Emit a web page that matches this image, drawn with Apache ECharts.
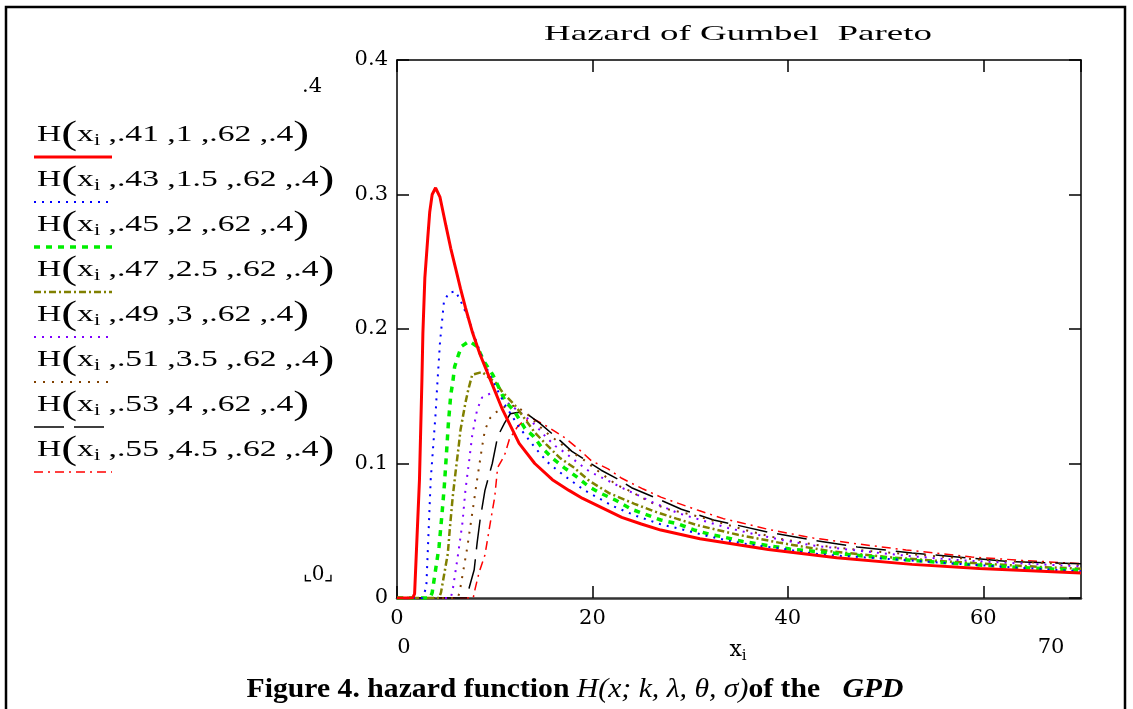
<!DOCTYPE html>
<html>
<head>
<meta charset="utf-8">
<title>Hazard of Gumbel Pareto</title>
<script src="https://cdn.jsdelivr.net/npm/echarts@6/dist/echarts.min.js"></script>
<style>
  html, body { margin: 0; padding: 0; background: #fff; }
  #chart { width: 1133px; height: 709px; }
</style>
</head>
<body>
<div id="chart"></div>
<script>
// x ticks / y ticks
var xTicks = [0, 20, 40, 60, 70];
var yTicks = [0, 0.1, 0.2, 0.3, 0.4];

// legend labels (k, lambda)
var kValues = ['.41', '.43', '.45', '.47', '.49', '.51', '.53', '.55'];
var lambdaValues = ['1', '1.5', '2', '2.5', '3', '3.5', '4', '4.5'];

// curves, [x, H]
var h1 = [[0,0],[1.6,0],[1.8,0.003],[2.3,0.088],[2.55,0.162],[2.65,0.197],[2.85,0.238],[3.15,0.268],[3.35,0.287],[3.6,0.300],[3.95,0.305],[4.4,0.298],[5.0,0.277],[5.5,0.260],[6.0,0.245],[6.5,0.230],[7.0,0.216],[7.7,0.198],[8.5,0.181],[9.4,0.165],[10.8,0.140],[12.5,0.115],[14.1,0.100],[15.9,0.088],[17.6,0.080],[19.0,0.074],[21.0,0.067],[23.0,0.060],[25.0,0.055],[27.0,0.0505],[31.0,0.044],[38.0,0.036],[45.0,0.030],[52.7,0.025],[59.6,0.022],[70,0.0185]];
var h2 = [[0,0],[2.6,0],[3.0,0.008],[3.45,0.088],[3.95,0.137],[4.1,0.156],[4.4,0.190],[4.6,0.205],[4.8,0.220],[5.3,0.227],[6.0,0.228],[6.7,0.218],[7.4,0.206],[8.0,0.193],[8.9,0.175],[9.9,0.160],[11.1,0.143],[12.5,0.127],[14.1,0.112],[15.4,0.101],[17.1,0.091],[19.2,0.080],[22.2,0.068],[24.5,0.061],[26.9,0.055],[29.4,0.0506],[31.8,0.046],[34.3,0.042],[36.7,0.039],[39.2,0.037],[41.6,0.034],[44.0,0.032],[49.4,0.0295],[56.2,0.026],[63.6,0.0225],[70,0.0198]];
var h3 = [[0,0],[3.4,0],[3.6,0.004],[4.3,0.038],[4.6,0.062],[4.85,0.084],[5.05,0.106],[5.25,0.129],[5.5,0.151],[5.7,0.160],[5.9,0.172],[6.3,0.181],[6.6,0.187],[7.4,0.191],[8.2,0.187],[8.9,0.176],[9.8,0.166],[11.1,0.146],[12.0,0.139],[13.1,0.126],[14.0,0.120],[14.8,0.112],[15.9,0.104],[17.1,0.097],[18.4,0.090],[19.6,0.083],[20.8,0.078],[22.3,0.073],[24.0,0.066],[25.5,0.062],[27.0,0.058],[28.8,0.055],[30.4,0.0506],[31.9,0.0476],[33.6,0.045],[35.4,0.042],[40.2,0.0364],[46.6,0.032],[52.7,0.028],[57.8,0.0253],[62.9,0.023],[70,0.0205]];
var h4 = [[0,0],[4.3,0],[4.5,0.004],[5.2,0.033],[5.4,0.051],[5.7,0.075],[6.0,0.094],[6.3,0.112],[6.5,0.125],[7.0,0.145],[7.3,0.155],[7.7,0.166],[8.7,0.168],[10.1,0.160],[10.8,0.153],[12.1,0.143],[13.1,0.133],[14.1,0.123],[15.3,0.114],[16.7,0.104],[18.1,0.097],[19.7,0.087],[21.7,0.078],[24.3,0.070],[26.5,0.064],[28.6,0.059],[30.8,0.054],[34.9,0.047],[39.2,0.041],[44.6,0.0345],[50.1,0.0305],[55.5,0.0275],[61.3,0.025],[66.0,0.023],[70,0.0218]];
var h5 = [[0,0],[5.5,0],[5.7,0.006],[6.2,0.030],[6.7,0.056],[7.0,0.080],[7.4,0.103],[7.7,0.121],[8.2,0.140],[8.7,0.149],[9.8,0.153],[10.5,0.151],[11.5,0.144],[12.8,0.137],[14.1,0.129],[15.2,0.120],[16.2,0.113],[17.2,0.108],[18.6,0.100],[19.7,0.094],[21.4,0.088],[23.0,0.082],[24.8,0.076],[26.2,0.071],[28.8,0.063],[31.1,0.058],[33.9,0.052],[36.5,0.0476],[39.5,0.043],[42.6,0.039],[47.4,0.035],[52.7,0.031],[57.8,0.028],[62.9,0.026],[70,0.0235]];
var h6 = [[0,0],[6.2,0],[6.4,0.004],[7.2,0.038],[7.7,0.063],[8.2,0.088],[8.7,0.112],[9.0,0.125],[9.55,0.134],[10.1,0.138],[11.0,0.142],[12.1,0.143],[13.3,0.137],[15.1,0.124],[16.7,0.115],[17.7,0.109],[18.9,0.104],[20.1,0.097],[21.2,0.091],[22.5,0.084],[23.7,0.080],[25.0,0.075],[26.0,0.071],[27.7,0.066],[30.1,0.062],[33.1,0.056],[35.9,0.050],[39.2,0.044],[43.3,0.039],[48.1,0.035],[53.5,0.032],[59.6,0.0285],[66.4,0.026],[70,0.0245]];
var h7 = [[0,0],[7.2,0],[7.4,0.008],[7.9,0.021],[8.2,0.041],[8.5,0.058],[9.0,0.080],[9.75,0.100],[10.3,0.120],[11.0,0.130],[11.6,0.137],[12.3,0.138],[13.1,0.138],[14.6,0.130],[16.7,0.117],[17.9,0.109],[19.4,0.102],[20.9,0.095],[22.7,0.088],[24.0,0.082],[26.3,0.075],[29.1,0.066],[32.4,0.058],[34.9,0.054],[37.9,0.049],[42.6,0.043],[47.1,0.038],[52.7,0.0335],[58.2,0.030],[62.9,0.027],[70,0.0255]];
var h8 = [[0,0],[7.8,0],[8.0,0.007],[8.4,0.019],[9.0,0.032],[9.55,0.056],[10.0,0.075],[10.3,0.097],[11.0,0.106],[11.5,0.118],[12.3,0.127],[13.0,0.132],[14.0,0.133],[15.5,0.127],[17.2,0.119],[18.7,0.110],[19.9,0.102],[21.6,0.096],[23.0,0.089],[25.2,0.081],[27.0,0.075],[30.9,0.065],[33.4,0.059],[35.2,0.056],[38.0,0.051],[42.6,0.0446],[47.4,0.040],[52.1,0.0357],[58.8,0.0305],[63.9,0.028],[70,0.0255]];

var curves = [h1, h2, h3, h4, h5, h6, h7, h8];

// mathcad-ish trace styles
var traceStyles = [
  { color: '#ff0000', width: 3,   dash: 'solid' },
  { color: '#0000ff', width: 2,   dash: [2, 6] },
  { color: '#00ee00', width: 3.5, dash: [6, 6] },
  { color: '#808000', width: 2.5, dash: [7, 3, 2, 3] },
  { color: '#8000ff', width: 2,   dash: [2, 6] },
  { color: '#804000', width: 2,   dash: [2, 7] },
  { color: '#000000', width: 1.5, dash: [30, 10] },
  { color: '#ff0000', width: 1.5, dash: [9, 5, 2, 5] }
];

var serif = 'Liberation Serif';
var numFont = 'DejaVu Serif';
var chart = echarts.init(document.getElementById('chart'));

var series = curves.map(function (c, i) {
  var st = traceStyles[i];
  return {
    name: 'H' + i,
    type: 'line',
    data: c,
    showSymbol: false,
    z: 10 - i,
    lineStyle: { color: st.color, width: st.width, type: st.dash },
    animation: false
  };
});

var graphics = [];
// outer frame
graphics.push({
  type: 'rect', shape: { x: 6, y: 7, width: 1119, height: 730 },
  style: { fill: 'none', stroke: '#000', lineWidth: 2.5 }, silent: true
});
// title
graphics.push({
  type: 'text', x: 738, y: 34, scaleX: 1.68,
  style: { text: 'Hazard of Gumbel  Pareto', font: '22px "Liberation Serif"', fill: '#000', align: 'center', verticalAlign: 'middle' }
});
// mathcad limit labels
graphics.push({
  type: 'text', x: 322, y: 87,
  style: { text: '.4', font: '21px "DejaVu Serif"', fill: '#000', align: 'right', verticalAlign: 'middle' }
});
graphics.push({
  type: 'text', x: 318, y: 575,
  style: { text: '⌞0⌟', font: '20px "DejaVu Serif"', fill: '#000', align: 'center', verticalAlign: 'middle' }
});
graphics.push({
  type: 'text', x: 404, y: 648,
  style: { text: '0', font: '21px "DejaVu Serif"', fill: '#000', align: 'center', verticalAlign: 'middle' }
});
graphics.push({
  type: 'text', x: 1051, y: 648,
  style: { text: '70', font: '21px "DejaVu Serif"', fill: '#000', align: 'center', verticalAlign: 'middle' }
});
graphics.push({
  type: 'text', x: 738, y: 650,
  style: {
    text: '{x|x}{s|i}', align: 'center', verticalAlign: 'middle',
    rich: {
      x: { font: '22px "DejaVu Serif"', fill: '#000' },
      s: { font: '15px "DejaVu Serif"', fill: '#000', padding: [12, 0, 0, 0] }
    }
  }
});

// legend: label text over a trace sample
var legendRich = {
  h: { font: '24px "Liberation Serif"', fill: '#000' },
  p: { font: '34px "Liberation Serif"', fill: '#000' },
  x: { font: '24px "Liberation Serif"', fill: '#000' },
  s: { font: '16px "Liberation Serif"', fill: '#000', padding: [12, 0, 0, 0] },
  t: { font: '24px "Liberation Serif"', fill: '#000' }
};
kValues.forEach(function (k, i) {
  var y0 = 135 + i * 45;
  var st = traceStyles[i];
  graphics.push({
    type: 'text', x: 37, y: y0, scaleX: 1.4,
    style: {
      text: '{h|H}{p|(}{x|x}{s|i}{t| ,' + k + ' ,' + lambdaValues[i] + ' ,.62 ,.4}{p|)}',
      rich: legendRich, verticalAlign: 'middle', align: 'left'
    }
  });
  graphics.push({
    type: 'line', shape: { x1: 34, y1: y0 + 22, x2: 112, y2: y0 + 22 },
    style: { stroke: st.color, lineWidth: st.width, lineDash: st.dash === 'solid' ? null : st.dash }
  });
});

// caption
graphics.push({
  type: 'text', x: 575, y: 690, scaleX: 1.1,
  style: {
    text: '{b|Figure 4. hazard function }{m|H(x; k, λ, θ, σ)}{b|of the   }{bi|GPD}',
    align: 'center', verticalAlign: 'middle',
    rich: {
      b: { font: 'bold 27px "Liberation Serif"', fill: '#000' },
      m: { font: 'italic 27px "Liberation Serif"', fill: '#000' },
      bi: { font: 'italic bold 27px "Liberation Serif"', fill: '#000' }
    }
  }
});

var axisCommon = {
  type: 'value',
  axisLine: { show: true, onZero: false, lineStyle: { color: '#000', width: 1.5 } },
  axisTick: { show: true, inside: true, length: 12, lineStyle: { color: '#000', width: 1.5 } },
  splitLine: { show: false }
};

var option = {
  backgroundColor: '#fff',
  animation: false,
  grid: { left: 397, right: 52, top: 60, bottom: 111, containLabel: false },
  xAxis: [
    Object.assign({}, axisCommon, {
      min: xTicks[0], max: xTicks[xTicks.length - 1], interval: xTicks[1] - xTicks[0], position: 'bottom',
      axisLine: { show: true, onZero: false, lineStyle: { color: '#333', width: 2.5 } },
      axisLabel: { showMaxLabel: false, color: '#000', fontFamily: numFont, fontSize: 21, margin: 10 }
    }),
    Object.assign({}, axisCommon, {
      min: xTicks[0], max: xTicks[xTicks.length - 1], interval: xTicks[1] - xTicks[0], position: 'top',
      axisLabel: { show: false }
    })
  ],
  yAxis: [
    Object.assign({}, axisCommon, {
      min: yTicks[0], max: yTicks[yTicks.length - 1], interval: yTicks[1] - yTicks[0], position: 'left',
      axisLabel: { color: '#000', fontFamily: numFont, fontSize: 21, margin: 9 }
    }),
    Object.assign({}, axisCommon, {
      min: yTicks[0], max: yTicks[yTicks.length - 1], interval: yTicks[1] - yTicks[0], position: 'right',
      axisLabel: { show: false }
    })
  ],
  series: series,
  graphic: graphics
};

chart.setOption(option);
</script>
</body>
</html>
